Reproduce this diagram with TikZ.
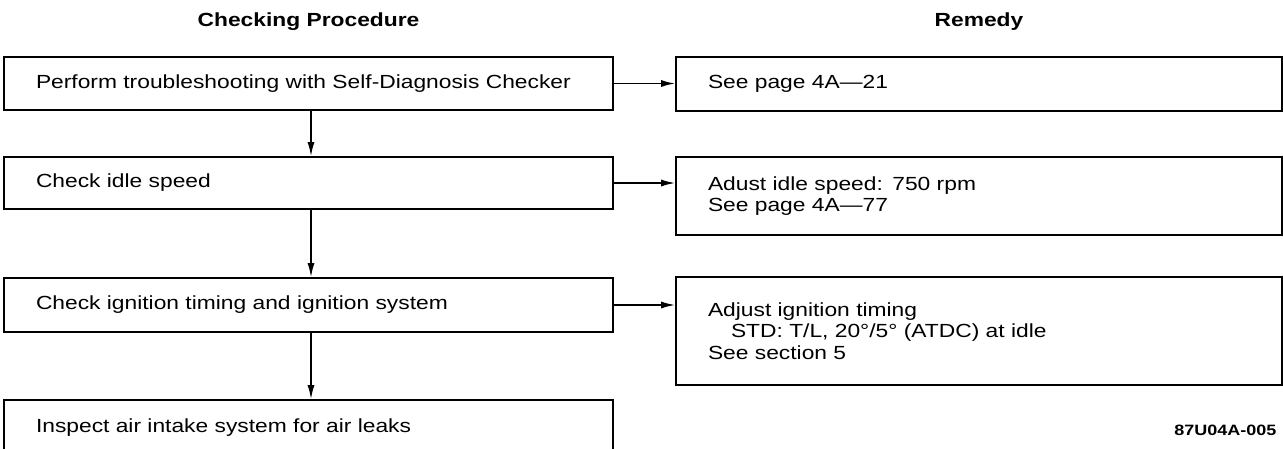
\documentclass[tikz,border=0pt]{standalone}
\usepackage{fontspec}
\setmainfont[FakeStretch=1.2]{Liberation Sans}
\usetikzlibrary{arrows.meta,positioning,calc}

\begin{document}
\begin{tikzpicture}[x=1pt, y=-1pt,
    stepbox/.style={draw, line width=1.6pt, rectangle, inner xsep=32pt, inner ysep=0pt,
                    align=left, font=\fontsize{19}{21.5}\selectfont},
    procbox/.style={stepbox, text width=545pt, minimum width=609pt},
    remedybox/.style={stepbox, text width=542pt, minimum width=606pt},
    flow/.style={line width=1.6pt, -{Latex[length=14pt, width=7pt]}},
    heading/.style={font=\fontsize{19}{22}\selectfont\bfseries}]
    \fill[white] (0,0) rectangle (1283,448);
    \useasboundingbox (0,0) rectangle (1283,448);

    \node[heading] (headproc) at (308.5,22) {Checking Procedure};
    \node[heading] (headrem) at (979,22) {Remedy};

    % checking procedure
    \node[procbox, minimum height=53pt] (chk1) at (308.5,83.5) {Perform troubleshooting with Self-Diagnosis Checker};
    \node[procbox, minimum height=52pt] (chk2) at (308.5,183) {Check idle speed};
    \node[procbox, minimum height=54pt] (chk3) at (308.5,305) {Check ignition timing and ignition system};
    \node[procbox, minimum height=56pt] (chk4) at (308.5,428) {Inspect air intake system for air leaks};

    % remedy
    \node[remedybox, minimum height=54pt] (rem1) at (979,84) {See page 4A---21};
    \node[remedybox, minimum height=78pt] (rem2) at (979,196) {Adust idle speed: 750 rpm\\See page 4A---77};
    \node[remedybox, minimum height=108pt] (rem3) at (979,331) {Adjust ignition timing\\\hspace*{23pt}STD: T/L, 20°/5° (ATDC) at idle\\See section 5};

    \node[font=\fontsize{15}{18}\selectfont\bfseries, anchor=east] (figno) at (1280,430) {87U04A-005};

    \draw[flow] ([xshift=2.5pt]chk1.south) -- ([xshift=2.5pt]chk2.north);
    \draw[flow] ([xshift=2.5pt]chk2.south) -- ([xshift=2.5pt]chk3.north);
    \draw[flow] ([xshift=2.5pt]chk3.south) -- ([xshift=2.5pt]chk4.north);

    \draw[flow] (chk1.east) -- (chk1.east -| rem1.west);
    \draw[flow] (chk2.east) -- (chk2.east -| rem2.west);
    \draw[flow] (chk3.east) -- (chk3.east -| rem3.west);
\end{tikzpicture}
\end{document}
